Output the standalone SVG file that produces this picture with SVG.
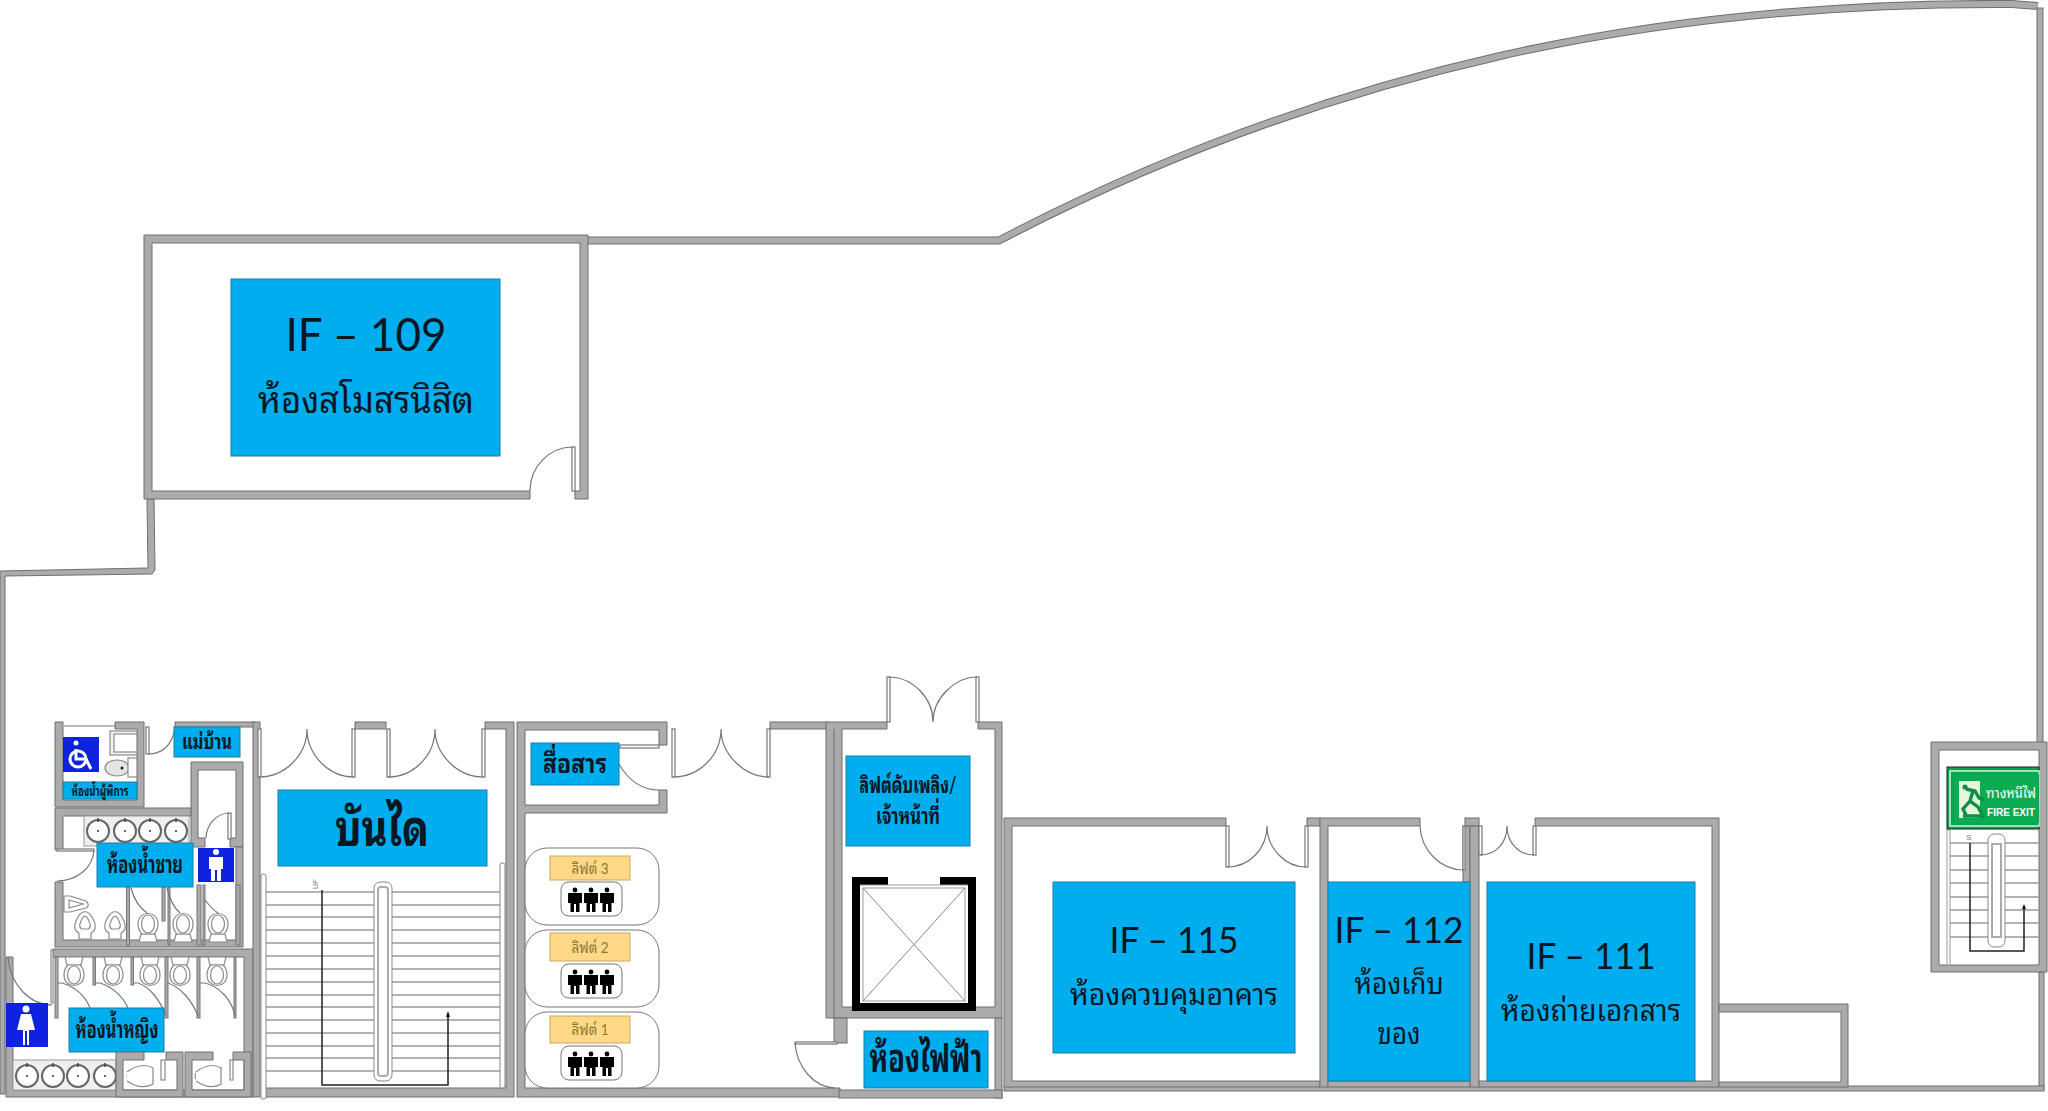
<svg xmlns="http://www.w3.org/2000/svg" xmlns:xlink="http://www.w3.org/1999/xlink" width="2048" height="1111" viewBox="0 0 2048 1111">
<style>
.w{fill:#ababab;stroke:#6f6f6f;stroke-width:1}
.d{fill:none;stroke:#777;stroke-width:1.2}
.leaf{fill:#fff;stroke:#777;stroke-width:1.2}
.lb{fill:#00aeef;stroke:#1b7ea6;stroke-width:1}
.t{font-family:"Lato","Noto Sans Thai Looped","Loma","Noto Sans Thai","Noto Sans",sans-serif;fill:#0a1722;text-anchor:middle}
.b{font-weight:700}
.stair{stroke:#9a9a9a;stroke-width:1.5}
.fx{fill:#fff;stroke:#8a8a8a;stroke-width:1.2}
.run{fill:none;stroke:#222;stroke-width:1.5}
.sign{fill:#0f22e0}
.card{fill:#fff;stroke:#777;stroke-width:1}
.yl{fill:#ffd987;stroke:#c9a75a;stroke-width:1}
.yt{font-family:"Lato","Noto Sans Thai Looped","Loma","Noto Sans Thai","Noto Sans",sans-serif;font-size:15px;fill:#8a7a3a;text-anchor:middle}
</style>
<defs>
<g id="basin"><circle r="11" fill="#fff" stroke="#666" stroke-width="2"/><circle r="1" fill="#333"/><path d="M0-13V-9" stroke="#444" stroke-width="1.5"/></g>
<g id="toilet" class="fx"><path d="M-7 0H7L9 8H-9Z"/><path d="M-10-10C-10-24 10-24 10-10C10-4 7-1 6 0H-6C-7-1-10-4-10-10Z"/><ellipse cy="-10" rx="6.5" ry="9"/></g>
<g id="urinal" class="fx"><path d="M-6 13H6V7C12 4 11-2 7-9C3-16-3-16-7-9C-11-2-12 4-6 7Z"/><path d="M-3 3C-7 1-5-3-3-7C-1-11 1-11 3-7C5-3 7 1 3 3Z"/></g>
<g id="person" fill="#000"><circle cy="-10" r="2.4"/><path d="M-7-7H7V3H4.5V12H1V4H-1V12H-4.5V3H-7Z"/></g>
<g id="trio"><use xlink:href="#person" x="-16"/><use xlink:href="#person"/><use xlink:href="#person" x="16"/></g>
</defs>

<g id="shell">
<path class="w" d="M147 499H154L155 570L152 574L5 576V1094H0V571L148 568Z"/>
<path fill="none" stroke="#6f6f6f" stroke-width="8" d="M588 240.500H999C1166 153 1333 94 1500 56C1671 17 1841 3 2012 4L2038 6"/>
<path fill="none" stroke="#ababab" stroke-width="6" d="M588 240.500H999C1166 153 1333 94 1500 56C1671 17 1841 3 2012 4L2038 6"/>
<rect class="w" x="2037" y="8" width="6" height="735"/>
<rect class="w" x="2039" y="972" width="5" height="118"/>
<rect class="w" x="1004" y="1086" width="1040" height="5"/>
</g>

<g id="room-if109">
<path class="w" d="M144 235H588V499H575V491H580V243H152V491H530V499H144Z"/>
<rect class="leaf" x="572" y="447" width="3" height="44"/>
<path class="d" d="M530 491A43 44 0 0 1 573 447"/>
<rect class="lb" x="231" y="279" width="269" height="177"/>
<text class="t" x="366" y="351" font-size="46" textLength="161" lengthAdjust="spacingAndGlyphs">IF – 109</text>
<text class="t" x="366" y="413" font-size="36" textLength="216" lengthAdjust="spacingAndGlyphs">ห้องสโมสรนิสิต</text>
</g>

<g id="wc-accessible">
<path class="w" d="M55 722H63V800H137V729H115V722H144V807H55Z"/>
<path class="d" d="M64 726H115"/>
<rect class="fx" x="110" y="731" width="27" height="24" style="fill:#f2f2f2"/>
<rect class="fx" x="114" y="734" width="23" height="18"/>
<ellipse class="fx" cx="117" cy="768" rx="12" ry="8" style="fill:#e4e4e4"/>
<circle cx="122" cy="768" r="1.500" fill="#222"/>
<rect class="fx" x="128" y="758" width="9" height="19"/>
<rect class="sign" x="63" y="737" width="36" height="35"/>
<g fill="none" stroke="#fff" stroke-width="3"><circle cx="78" cy="759" r="8"/><path d="M76 749V759H86L91 769"/></g><circle cx="76" cy="743" r="2.500" fill="#fff"/>
<rect class="lb" x="63" y="782" width="74" height="17"/>
<text class="t b" x="100" y="796" font-size="13" textLength="57" lengthAdjust="spacingAndGlyphs">ห้องน้ำผู้พิการ</text>
</g>

<g id="wc-maid">
<rect class="w" x="175" y="722" width="80" height="5"/>
<rect class="leaf" x="146" y="727" width="3" height="27"/>
<path class="d" d="M148 754C162 754 173 745 175 727"/>
<rect class="lb" x="174" y="727" width="66" height="30"/>
<text class="t b" x="207" y="749" font-size="20" textLength="50" lengthAdjust="spacingAndGlyphs">แม่บ้าน</text>
</g>

<g id="closet">
<path class="w" d="M191 762H243V847H230V838H236V770H198V838H205V847H191Z"/>
<rect class="leaf" x="228" y="813" width="3" height="26"/>
<path class="d" d="M206 838A24 26 0 0 1 229 813"/>
</g>

<g id="wc-men">
<path class="w" d="M55 808H191V816H63V850H55Z"/>
<path class="w" d="M55 882H63V940H236V847H243V947H55Z"/>
<rect x="84" y="816" width="105" height="30" fill="#efefef" stroke="#999"/>
<use xlink:href="#basin" x="98" y="831"/><use xlink:href="#basin" x="125" y="831"/><use xlink:href="#basin" x="150" y="831"/><use xlink:href="#basin" x="176" y="831"/>
<path class="d" d="M94 850A37 32 0 0 1 57 881"/>
<rect class="leaf" x="57" y="849" width="37" height="2"/>
<path class="fx" d="M64 896H70L86 901C89 904 89 906 86 908L70 912H64Z"/><path class="fx" d="M69 900L83 904L69 908Z"/>
<use xlink:href="#urinal" x="85" y="926"/><use xlink:href="#urinal" x="115" y="926"/>
<use xlink:href="#toilet" x="148" y="934"/><use xlink:href="#toilet" x="183" y="934"/><use xlink:href="#toilet" x="218" y="934"/>
<g fill="#ababab" stroke="#777"><rect x="126.500" y="887" width="3" height="58"/><rect x="162" y="887" width="3" height="34"/><rect x="168" y="887" width="2" height="58"/><rect x="197" y="885" width="4" height="60"/><rect x="203" y="885" width="2" height="60"/><rect x="236" y="885" width="4" height="60"/></g>
<path class="d" d="M131 888C134 900 140 908 147 913M167 888C170 900 174 908 180 913M205 900C209 905 213 910 218 913"/>
<rect class="lb" x="97" y="843" width="96" height="44"/>
<text class="t b" x="145" y="873" font-size="24" textLength="76" lengthAdjust="spacingAndGlyphs">ห้องน้ำชาย</text>
<rect class="sign" x="198" y="848" width="36" height="34"/>
<g fill="#fff"><circle cx="216" cy="852" r="3"/><path d="M209 857H223V869H221V881H217V870H215V881H211V869H209Z"/></g>
</g>

<g id="wc-women">
<path class="w" d="M53 949H253V1097H6V957H13V1090H244V957H53Z"/>
<rect class="fx" x="51" y="950" width="2" height="53"/>
<path class="d" d="M8 957C10 985 30 1005 52 1005"/>
<rect x="13" y="1060" width="103" height="30" fill="#efefef" stroke="#999"/>
<use xlink:href="#basin" x="27" y="1076"/><use xlink:href="#basin" x="53" y="1076"/><use xlink:href="#basin" x="78" y="1076"/><use xlink:href="#basin" x="105" y="1076"/>
<use xlink:href="#toilet" transform="translate(74 965) rotate(180)"/>
<use xlink:href="#toilet" transform="translate(113 965) rotate(180)"/>
<use xlink:href="#toilet" transform="translate(150 965) rotate(180)"/>
<use xlink:href="#toilet" transform="translate(180 965) rotate(180)"/>
<use xlink:href="#toilet" transform="translate(217 965) rotate(180)"/>
<g fill="#ababab" stroke="#777"><rect x="55" y="957" width="3" height="61"/><rect x="93" y="957" width="2.500" height="28"/><rect x="131" y="957" width="2.500" height="28"/><rect x="165" y="957" width="3" height="61"/><rect x="197" y="957" width="3" height="61"/><rect x="234" y="957" width="2" height="61"/></g>
<path class="d" d="M57 983H62C75 987 85 995 90 1008M95 983H100C112 987 122 995 128 1008M133 983H138C150 987 160 1000 166 1016M168 983C180 987 192 1000 198 1016M200 983H205C220 987 232 1000 235 1016"/>
<rect class="sign" x="6" y="1003" width="42" height="44"/>
<g fill="#fff"><circle cx="26" cy="1009" r="3.500"/><path d="M21 1014H31L35 1030H29V1045H27V1031H25V1045H23V1030H17Z"/></g>
<rect class="lb" x="69" y="1008" width="95" height="44"/>
<text class="t b" x="117" y="1038" font-size="24" textLength="83" lengthAdjust="spacingAndGlyphs">ห้องน้ำหญิง</text>
<path class="w" d="M116 1052H144V1060H123V1090H177V1060H166V1052H183V1097H116Z"/>
<path class="w" d="M185 1052H213V1060H192V1090H244V1060H233V1052H251V1097H185Z"/>
<g class="fx"><ellipse cx="137" cy="1076" rx="10" ry="7"/><path d="M127 1072C140 1062 150 1066 153 1068V1084C150 1086 140 1090 127 1081"/><rect x="161" y="1060" width="4" height="20"/></g>
<g class="fx"><ellipse cx="205" cy="1076" rx="10" ry="7"/><path d="M196 1072C209 1062 218 1066 221 1068V1084C218 1086 209 1090 196 1081"/><rect x="230" y="1060" width="3" height="20"/></g>
</g>

<g id="stair-main">
<rect class="w" x="253" y="722" width="7" height="375"/>
<rect class="w" x="355" y="722" width="31" height="7"/>
<path class="w" d="M485 722H514V1097H265V1088H506V729H485Z"/>
<path class="stair" d="M265 892H500M265 905H500M265 917H500M265 930H500M265 943H500M265 956H500M265 969H500M265 982H500M265 995H500M265 1007H500M265 1020H500M265 1033H500M265 1046H500M265 1058H500M265 1071H500"/>
<rect x="374" y="882" width="18" height="199" rx="6" fill="#fff" stroke="#888"/>
<rect x="378" y="887" width="10" height="189" rx="3" fill="#fff" stroke="#aaa" stroke-width="2"/>
<rect x="261" y="874" width="5" height="225" rx="2" fill="#fff" stroke="#888"/>
<rect x="500" y="863" width="5" height="225" rx="2" fill="#fff" stroke="#888"/>
<path class="run" d="M322 890V1085H448V1015"/><path d="M448 1011L446 1017H450Z" fill="#111"/>
<text x="318" y="884" font-family="Liberation Sans,sans-serif" font-size="7" fill="#777" transform="rotate(-90 318 884)" text-anchor="middle">UP</text>
<g id="stair-doors">
<rect class="leaf" x="258" y="729" width="3" height="48"/><rect class="leaf" x="352" y="729" width="3" height="48"/>
<rect class="leaf" x="387" y="729" width="3" height="48"/><rect class="leaf" x="482" y="729" width="3" height="48"/>
<path class="d" d="M259 777C285 777 307 755 307 729C307 755 329 777 354 777M388 777C414 777 435 755 435 729C435 755 458 777 483 777"/>
</g>
<rect class="lb" x="278" y="790" width="209" height="76"/>
<text class="t b" x="382" y="846" font-size="50" textLength="94" lengthAdjust="spacingAndGlyphs">บันได</text>
</g>

<g id="hall">
<path class="w" d="M517 722H667V745H659V730H525V805H659V790H667V813H525V1088H840V1097H517Z"/>
<rect class="w" x="770" y="722" width="58" height="7"/>
<rect class="leaf" x="620" y="745" width="39" height="3"/>
<path class="d" d="M619 764C628 780 642 790 659 790"/>
<rect class="lb" x="531" y="743" width="88" height="42"/>
<text class="t b" x="575" y="773" font-size="26" textLength="64" lengthAdjust="spacingAndGlyphs">สื่อสาร</text>
<rect class="leaf" x="672" y="729" width="3" height="48"/><rect class="leaf" x="767" y="729" width="3" height="48"/>
<path class="d" d="M673 777C700 777 721 755 721 729C721 755 745 777 769 777"/>
</g>

<g id="lift-1"><rect class="card" x="525" y="1012" width="134" height="76" rx="22"/><rect class="yl" x="550" y="1016" width="80" height="27"/><text class="yt" x="590" y="1035" textLength="37" lengthAdjust="spacingAndGlyphs">ลิฟต์ 1</text><rect class="card" x="561" y="1046" width="61" height="34" rx="8"/><use xlink:href="#trio" x="591" y="1064"/></g>
<g id="lift-2"><rect class="card" x="525" y="930" width="134" height="77" rx="22"/><rect class="yl" x="550" y="933" width="80" height="28"/><text class="yt" x="590" y="953" textLength="37" lengthAdjust="spacingAndGlyphs">ลิฟต์ 2</text><rect class="card" x="561" y="964" width="61" height="34" rx="8"/><use xlink:href="#trio" x="591" y="982"/></g>
<g id="lift-3"><rect class="card" x="525" y="848" width="134" height="77" rx="22"/><rect class="yl" x="550" y="856" width="80" height="24"/><text class="yt" x="590" y="874" textLength="37" lengthAdjust="spacingAndGlyphs">ลิฟต์ 3</text><rect class="card" x="561" y="882" width="61" height="34" rx="8"/><use xlink:href="#trio" x="591" y="900"/></g>

<g id="fire-lift">
<path class="w" d="M826 722H887V729H842V1007H995V729H978V722H1002V1018H826Z"/>
<path class="d" d="M834 729V1018"/>
<rect class="leaf" x="887" y="677" width="3" height="45"/><rect class="leaf" x="976" y="677" width="3" height="45"/>
<path class="d" d="M888 677C913 677 933 698 933 722C933 698 955 677 977 677"/>
<rect class="lb" x="846" y="756" width="124" height="90"/>
<text class="t b" x="908" y="793" font-size="23" textLength="97" lengthAdjust="spacingAndGlyphs">ลิฟต์ดับเพลิง/</text>
<text class="t b" x="908" y="824" font-size="23" textLength="64" lengthAdjust="spacingAndGlyphs">เจ้าหน้าที่</text>
<path fill="#000" d="M852 877H888V885H860V1003H968V885H940V877H976V1011H852Z"/>
<rect x="863" y="888" width="102" height="113" fill="#fff" stroke="#999" stroke-width="1"/>
<path d="M860 885H968" stroke="#999"/>
<path d="M863 888L965 1001M965 888L863 1001" stroke="#888" fill="none"/>
</g>

<g id="electrical">
<rect class="w" x="834" y="1018" width="13" height="25"/>
<rect class="w" x="995" y="1018" width="7" height="80"/>
<rect class="w" x="839" y="1090" width="163" height="8"/>
<rect class="leaf" x="795" y="1042" width="42" height="2"/>
<path class="d" d="M795 1043C797 1068 814 1087 835 1088"/>
<rect class="lb" x="864" y="1031" width="124" height="57"/>
<text class="t b" x="926" y="1072" font-size="38" textLength="113" lengthAdjust="spacingAndGlyphs">ห้องไฟฟ้า</text>
</g>

<g id="room-if115">
<path class="w" d="M1004 818H1226V826H1012V1081H1320V1087H1004Z"/>
<rect class="w" x="1307" y="818" width="13" height="8"/>
<rect class="leaf" x="1226" y="826" width="3" height="41"/><rect class="leaf" x="1305" y="826" width="3" height="41"/>
<path class="d" d="M1227 867C1250 867 1267 848 1267 826C1267 848 1285 867 1306 867"/>
<rect class="lb" x="1053" y="882" width="242" height="171"/>
<text class="t" x="1174" y="953" font-size="37" textLength="129" lengthAdjust="spacingAndGlyphs">IF – 115</text>
<text class="t" x="1174" y="1005" font-size="30" textLength="208" lengthAdjust="spacingAndGlyphs">ห้องควบคุมอาคาร</text>
</g>

<g id="room-if112">
<path class="w" d="M1320 818H1420V826H1328V1087H1320Z"/>
<rect class="w" x="1463" y="826" width="7" height="56"/>
<rect class="w" x="1465" y="818" width="14" height="8"/>
<rect class="w" x="1470" y="826" width="9" height="261"/>
<rect class="w" x="1328" y="1081" width="142" height="6"/>
<rect class="leaf" x="1463" y="826" width="2" height="44"/>
<path class="d" d="M1420 826C1421 850 1440 870 1464 870"/>
<rect class="lb" x="1328" y="882" width="142" height="199"/>
<text class="t" x="1399" y="943" font-size="37" textLength="129" lengthAdjust="spacingAndGlyphs">IF – 112</text>
<text class="t" x="1399" y="994" font-size="30" textLength="89" lengthAdjust="spacingAndGlyphs">ห้องเก็บ</text>
<text class="t" x="1399" y="1044" font-size="30" textLength="43" lengthAdjust="spacingAndGlyphs">ของ</text>
</g>

<g id="room-if111">
<path class="w" d="M1535 818H1719V1087H1479V1081H1712V826H1535Z"/>
<rect class="leaf" x="1479" y="826" width="3" height="29"/><rect class="leaf" x="1533" y="826" width="3" height="29"/>
<path class="d" d="M1480 855C1496 855 1507 843 1507 826C1507 843 1519 855 1534 855"/>
<rect class="lb" x="1487" y="882" width="208" height="199"/>
<text class="t" x="1591" y="969" font-size="37" textLength="129" lengthAdjust="spacingAndGlyphs">IF – 111</text>
<text class="t" x="1591" y="1021" font-size="30" textLength="180" lengthAdjust="spacingAndGlyphs">ห้องถ่ายเอกสาร</text>
</g>

<g id="annex">
<path class="w" d="M1719 1004H1848V1087H1719V1082H1841V1012H1719Z"/>
</g>

<g id="stair-fire">
<path class="w" d="M1931 742H2047V972H1931ZM1939 750V965H2039V750Z" fill-rule="evenodd"/>
<path class="stair" d="M1950 843H2039M1950 856H2039M1950 870H2039M1950 883H2039M1950 897H2039M1950 910H2039M1950 923H2039M1950 937H2039"/>
<rect x="1988" y="834" width="17" height="113" rx="6" fill="#fff" stroke="#888"/>
<rect x="1992" y="844" width="9" height="93" fill="#fff" stroke="#aaa" stroke-width="2"/>
<rect x="1947" y="830" width="3" height="135" fill="#fff" stroke="#999"/>
<path class="run" d="M1970 843V951H2024V908"/><path d="M2024 904L2022 909H2026Z" fill="#111"/>
<text x="1969" y="840" font-family="Liberation Sans,sans-serif" font-size="8" fill="#777" text-anchor="middle">S</text>
<g id="fire-sign">
<rect x="1947" y="767" width="92" height="62" fill="#06a650" stroke="#222" stroke-width="1"/>
<rect x="1950" y="771" width="89" height="55" fill="none" stroke="#d8f0dc" stroke-width="1.500"/>
<rect x="1955" y="774" width="84" height="49" fill="#0bab52"/>
<rect x="1959" y="781" width="21" height="37" fill="#e8f4dc"/>
<path d="M1966 789L1975 791L1979 798L1984 800M1973 791L1970 801L1978 807L1983 816H1963M1970 801L1963 809L1967 817" fill="none" stroke="#0a8f45" stroke-width="3.400"/>
<circle cx="1965" cy="787" r="2.600" fill="#0a8f45"/>
<text x="2011" y="798" font-family="Lato,Noto Sans Thai Looped,Loma,Noto Sans Thai,Noto Sans,sans-serif" font-size="14" fill="#fff" text-anchor="middle" textLength="50" lengthAdjust="spacingAndGlyphs">ทางหนีไฟ</text>
<text x="2011" y="816" font-family="Liberation Sans,sans-serif" font-weight="700" font-size="11" fill="#fff" text-anchor="middle" textLength="48" lengthAdjust="spacingAndGlyphs">FIRE EXIT</text>
</g>
</g>
</svg>
